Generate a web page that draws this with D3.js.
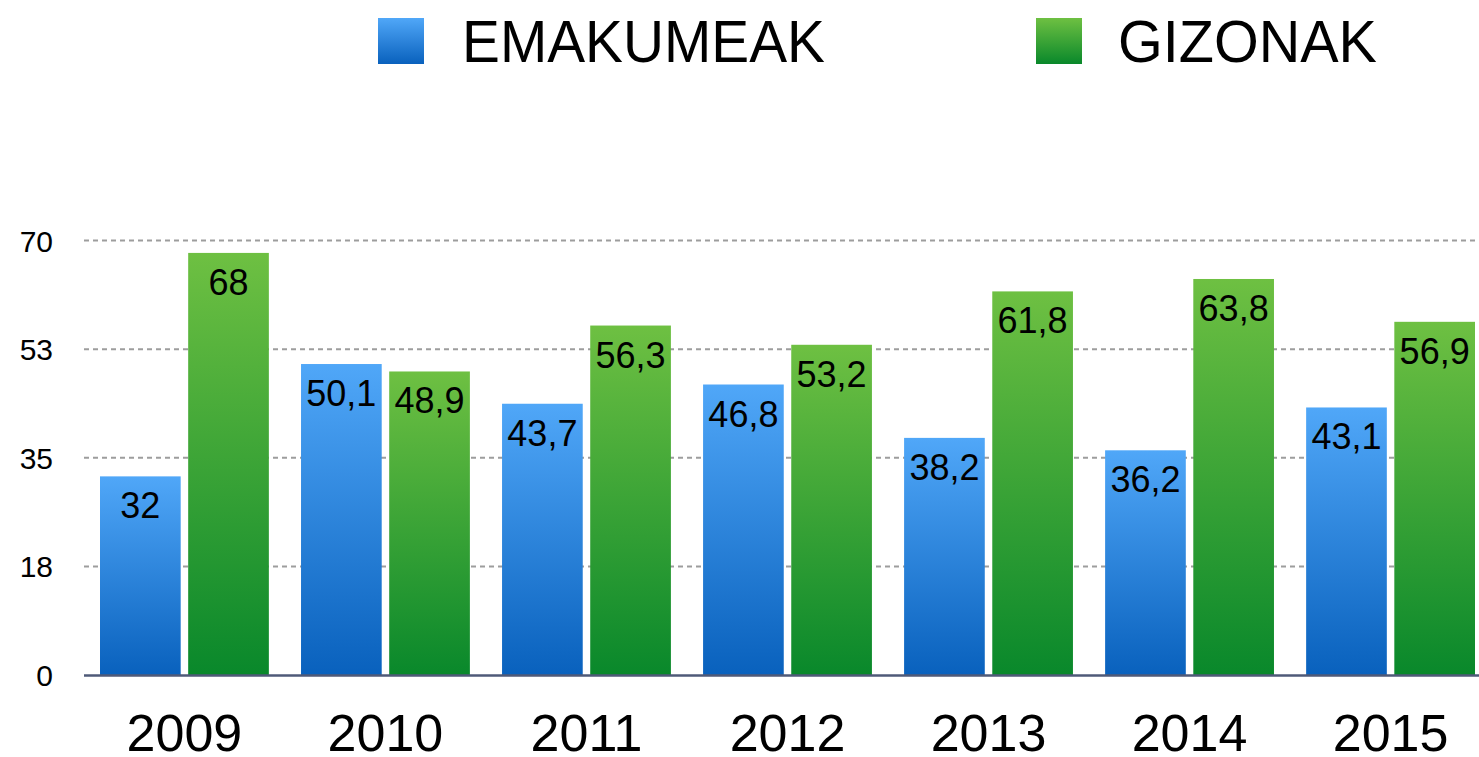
<!DOCTYPE html>
<html>
<head>
<meta charset="utf-8">
<script src="https://cdn.jsdelivr.net/npm/d3@7"></script>
<style>
  body { margin: 0; background: #fff; }
  text { font-family: "Helvetica Neue", "Liberation Sans", Arial, sans-serif; fill: #000; }
</style>
</head>
<body>
<div id="chart"></div>
<script>
// data
const years = ["2009", "2010", "2011", "2012", "2013", "2014", "2015"];
const seriesNames = ["EMAKUMEAK", "GIZONAK"];
const emakumeak = [32, 50.1, 43.7, 46.8, 38.2, 36.2, 43.1];
const gizonak = [68, 48.9, 56.3, 53.2, 61.8, 63.8, 56.9];
const yTicks = [0, 17.5, 35, 52.5, 70];

const width = 1479, height = 757;

const svg = d3.select("#chart").append("svg")
    .attr("width", width)
    .attr("height", height);

// gradients, one per series
const defs = svg.append("defs");
const gradColors = [["#50a7f8", "#0961bd"], ["#6ec042", "#09882b"]];
gradColors.forEach((c, i) => {
    let g = defs.append("linearGradient")
        .attr("id", "grad" + i)
        .attr("x1", 0).attr("y1", 0).attr("x2", 0).attr("y2", 1);
    g.append("stop").attr("offset", "0%").attr("stop-color", c[0]);
    g.append("stop").attr("offset", "100%").attr("stop-color", c[1]);
});

// scales
const x0 = d3.scaleBand().domain(years).range([100, 1475]).paddingInner(0.16).paddingOuter(0);
const x1 = d3.scaleBand().domain(seriesNames).range([0, x0.bandwidth()]).paddingInner(0.085);
const y = d3.scaleLinear().domain([0, 70]).range([675, 240.5]);

// grid lines
svg.append("g")
    .selectAll("line")
    .data(yTicks.filter(d => d > 0))
    .enter()
    .append("line")
    .attr("x1", 84).attr("x2", width)
    .attr("y1", d => y(d)).attr("y2", d => y(d))
    .attr("stroke", "#9d9d9d")
    .attr("stroke-width", 2)
    .attr("stroke-dasharray", "5,4");

// y tick labels
svg.append("g")
    .selectAll("text")
    .data(yTicks)
    .enter()
    .append("text")
    .attr("x", 53)
    .attr("y", d => y(d) + 11)
    .attr("text-anchor", "end")
    .attr("font-size", 30)
    .text(d => Math.round(d));

// bars
const rows = years.map((yr, i) => ({year: yr, values: [emakumeak[i], gizonak[i]]}));

const groups = svg.append("g")
    .selectAll("g")
    .data(rows)
    .enter()
    .append("g")
    .attr("transform", d => "translate(" + x0(d.year) + ",0)");

groups.selectAll("rect")
    .data(d => d.values.map((v, i) => ({name: seriesNames[i], i: i, value: v})))
    .enter()
    .append("rect")
    .attr("x", d => x1(d.name))
    .attr("y", d => y(d.value))
    .attr("width", x1.bandwidth())
    .attr("height", d => y(0) - y(d.value))
    .attr("fill", d => "url(#grad" + d.i + ")");

// value labels
groups.selectAll("text")
    .data(d => d.values.map((v, i) => ({name: seriesNames[i], value: v})))
    .enter()
    .append("text")
    .attr("x", d => x1(d.name) + x1.bandwidth() / 2)
    .attr("y", d => y(d.value) + 42)
    .attr("text-anchor", "middle")
    .attr("font-size", 36)
    .text(d => String(d.value).replace(".", ","));

// baseline
svg.append("line")
    .attr("x1", 84).attr("x2", width)
    .attr("y1", y(0) + 0.5).attr("y2", y(0) + 0.5)
    .attr("stroke", "#4f5a78")
    .attr("stroke-width", 2.5);

// x labels
svg.append("g")
    .selectAll("text")
    .data(years)
    .enter()
    .append("text")
    .attr("x", d => x0(d) + x0.bandwidth() / 2)
    .attr("y", 751)
    .attr("text-anchor", "middle")
    .attr("font-size", 52)
    .text(d => d);

// legend
const legendX = [378, 1036];
const legendW = [363, 259];
const legend = svg.append("g")
    .selectAll("g")
    .data(seriesNames)
    .enter()
    .append("g")
    .attr("transform", (d, i) => "translate(" + legendX[i] + ",18)");

legend.append("rect")
    .attr("width", 46)
    .attr("height", 46)
    .attr("fill", (d, i) => "url(#grad" + i + ")");

legend.append("text")
    .attr("x", (d, i) => i === 0 ? 84 : 82)
    .attr("y", 44)
    .attr("font-size", 60)
    .attr("textLength", (d, i) => legendW[i])
    .attr("lengthAdjust", "spacingAndGlyphs")
    .text(d => d);
</script>
</body>
</html>
